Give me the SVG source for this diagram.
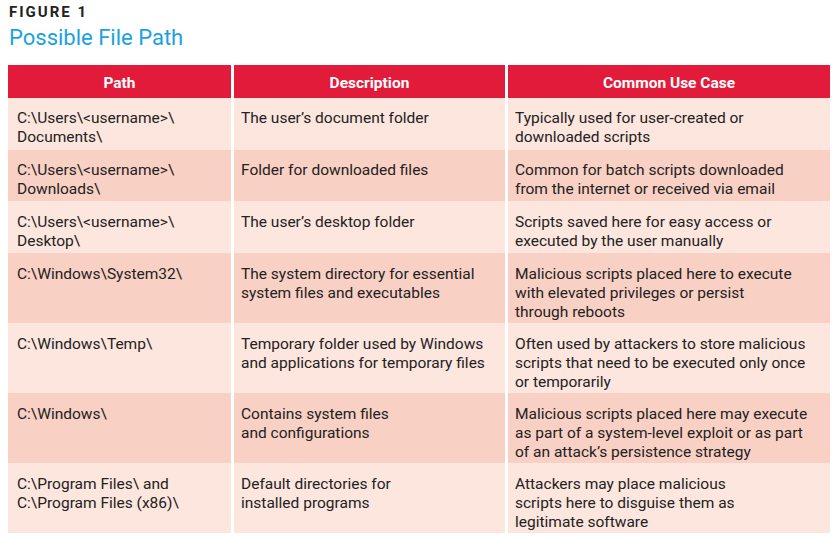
<svg xmlns="http://www.w3.org/2000/svg" width="836" height="540" viewBox="0 0 836 540">
<style>
text{font-family:Roboto,"Liberation Sans",sans-serif;font-size:15.5px;fill:#222}
.h{fill:#fff;font-weight:bold;text-anchor:middle}
.hd{fill:#E31B3B}
.a{fill:#FCE6DE}
.b{fill:#F9D0C4}
</style>
<rect width="836" height="540" fill="#fff"/>
<text x="9" y="17" style="font-weight:bold;font-size:15px;letter-spacing:2px;fill:#222">FIGURE 1</text>
<text x="9" y="45" style="font-size:22px;fill:#1BA1E2">Possible File Path</text>
<g id="header">
<rect class="hd" x="8" y="65" width="223" height="33"/>
<rect class="hd" x="234" y="65" width="271" height="33"/>
<rect class="hd" x="508" y="65" width="322" height="33"/>
<text class="h" x="119.5" y="88">Path</text>
<text class="h" x="369.5" y="88">Description</text>
<text class="h" x="669" y="88">Common Use Case</text>
</g>
<g id="row1">
<rect class="a" x="8" y="98" width="223" height="52"/><rect class="a" x="234" y="98" width="271" height="52"/><rect class="a" x="508" y="98" width="322" height="52"/>
<text x="17" y="123">C:\Users\&lt;username&gt;\</text><text x="17" y="142">Documents\</text>
<text x="241" y="123">The user’s document folder</text>
<text x="515" y="123">Typically used for user-created or</text><text x="515" y="142">downloaded scripts</text>
</g>
<g id="row2">
<rect class="b" x="8" y="150" width="223" height="51"/><rect class="b" x="234" y="150" width="271" height="51"/><rect class="b" x="508" y="150" width="322" height="51"/>
<text x="17" y="175">C:\Users\&lt;username&gt;\</text><text x="17" y="194">Downloads\</text>
<text x="241" y="175">Folder for downloaded files</text>
<text x="515" y="175">Common for batch scripts downloaded</text><text x="515" y="194">from the internet or received via email</text>
</g>
<g id="row3">
<rect class="a" x="8" y="201" width="223" height="52"/><rect class="a" x="234" y="201" width="271" height="52"/><rect class="a" x="508" y="201" width="322" height="52"/>
<text x="17" y="227">C:\Users\&lt;username&gt;\</text><text x="17" y="246">Desktop\</text>
<text x="241" y="227">The user’s desktop folder</text>
<text x="515" y="227">Scripts saved here for easy access or</text><text x="515" y="246">executed by the user manually</text>
</g>
<g id="row4">
<rect class="b" x="8" y="253" width="223" height="70"/><rect class="b" x="234" y="253" width="271" height="70"/><rect class="b" x="508" y="253" width="322" height="70"/>
<text x="17" y="279">C:\Windows\System32\</text>
<text x="241" y="279">The system directory for essential</text><text x="241" y="298">system files and executables</text>
<text x="515" y="279">Malicious scripts placed here to execute</text><text x="515" y="298">with elevated privileges or persist</text><text x="515" y="317">through reboots</text>
</g>
<g id="row5">
<rect class="a" x="8" y="323" width="223" height="70"/><rect class="a" x="234" y="323" width="271" height="70"/><rect class="a" x="508" y="323" width="322" height="70"/>
<text x="17" y="349">C:\Windows\Temp\</text>
<text x="241" y="349">Temporary folder used by Windows</text><text x="241" y="368">and applications for temporary files</text>
<text x="515" y="349">Often used by attackers to store malicious</text><text x="515" y="368">scripts that need to be executed only once</text><text x="515" y="387">or temporarily</text>
</g>
<g id="row6">
<rect class="b" x="8" y="393" width="223" height="70"/><rect class="b" x="234" y="393" width="271" height="70"/><rect class="b" x="508" y="393" width="322" height="70"/>
<text x="17" y="419">C:\Windows\</text>
<text x="241" y="419">Contains system files</text><text x="241" y="438">and configurations</text>
<text x="515" y="419">Malicious scripts placed here may execute</text><text x="515" y="438">as part of a system-level exploit or as part</text><text x="515" y="457">of an attack’s persistence strategy</text>
</g>
<g id="row7">
<rect class="a" x="8" y="463" width="223" height="70"/><rect class="a" x="234" y="463" width="271" height="70"/><rect class="a" x="508" y="463" width="322" height="70"/>
<text x="17" y="489">C:\Program Files\ and</text><text x="17" y="508">C:\Program Files (x86)\</text>
<text x="241" y="489">Default directories for</text><text x="241" y="508">installed programs</text>
<text x="515" y="489">Attackers may place malicious</text><text x="515" y="508">scripts here to disguise them as</text><text x="515" y="527">legitimate software</text>
</g>
</svg>
